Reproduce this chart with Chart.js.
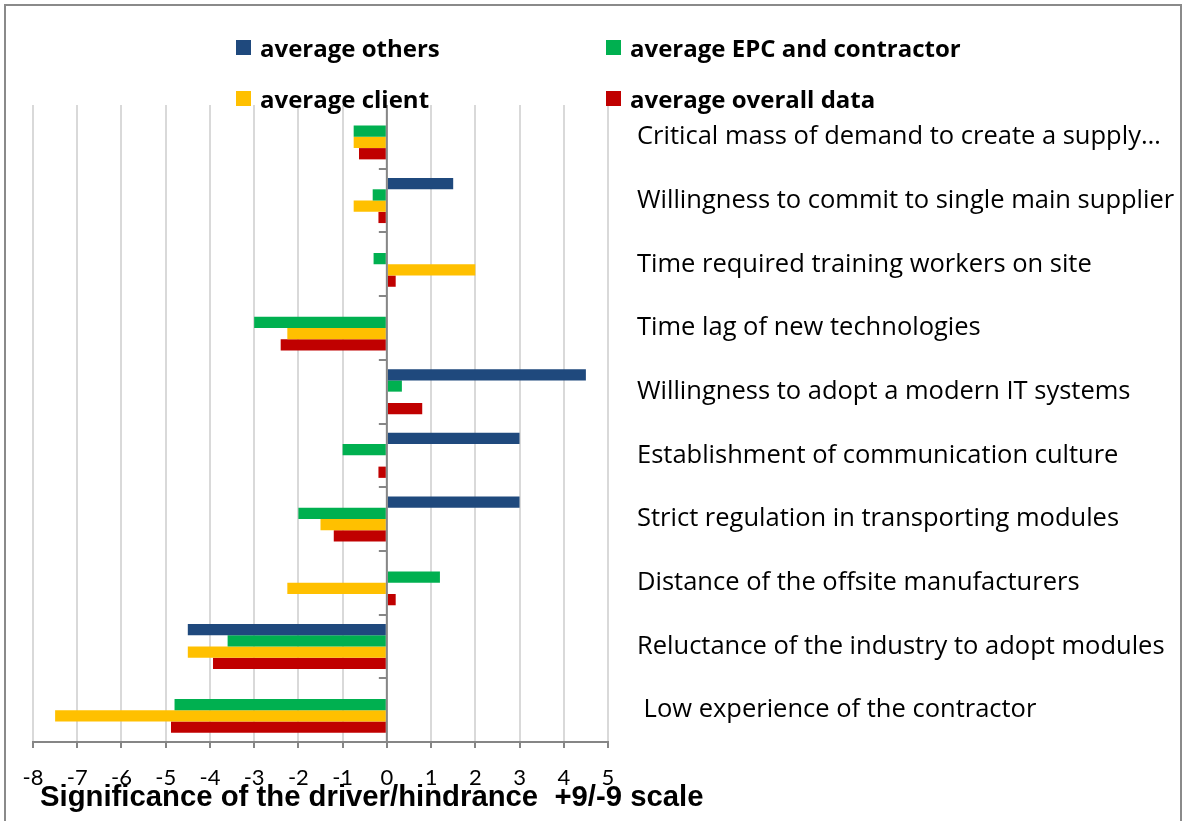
<!DOCTYPE html>
<html>
<head>
<meta charset="utf-8">
<script src="https://cdn.jsdelivr.net/npm/chart.js@4.4.1/dist/chart.umd.min.js"></script>
<style>
  html, body { margin: 0; padding: 0; background: #fff; }
  #wrap { position: relative; width: 1184px; height: 821px; overflow: hidden; }
  #frame { position: absolute; left: 4px; top: 4px; width: 1178px; height: 840px; border: 2px solid #8a8a8a; box-sizing: border-box; pointer-events: none; }
  #legend { position: absolute; left: 0; top: 0; font: bold 24px "Open Sans", sans-serif; color: #000; }
  .item { position: absolute; display: flex; align-items: center; white-space: nowrap; height: 28px; }
  .box { width: 15px; height: 15px; margin-right: 9px; }
</style>
</head>
<body>
<div id="wrap">
  <canvas id="chart"></canvas>
  <div id="legend"></div>
  <div id="frame"></div>
</div>
<script>
const categories = [
  'Critical mass of demand to create a supply\u2026',
  'Willingness to commit to single main supplier',
  'Time required training workers on site',
  'Time lag of new technologies',
  'Willingness to adopt a modern IT systems',
  'Establishment of communication culture',
  'Strict regulation in transporting modules',
  'Distance of the offsite manufacturers',
  'Reluctance of the industry to adopt modules',
  ' Low experience of the contractor'
];
const avgOthers = [null, 1.5, null, null, 4.5, 3.0, 3.0, null, -4.5, null];
const avgEpc = [-0.75, -0.32, -0.3, -3.0, 0.34, -1.0, -2.0, 1.2, -3.6, -4.8];
const avgClient = [-0.75, -0.75, 2.0, -2.25, null, null, -1.5, -2.25, -4.5, -7.5];
const avgOverall = [-0.63, -0.19, 0.2, -2.4, 0.8, -0.19, -1.2, 0.2, -3.93, -4.88];
const xTicks = [-8, -7, -6, -5, -4, -3, -2, -1, 0, 1, 2, 3, 4, 5];
const xTitle = 'Significance of the driver/hindrance  +9/-9 scale';

// short ticks on the zero axis between categories + the zero line itself
const zeroAxis = {
  id: 'zeroAxis',
  afterDatasetsDraw(chart) {
    const x = chart.scales.x, y = chart.scales.y, ctx = chart.ctx;
    const x0 = x.getPixelForValue(0);
    const n = chart.data.labels.length;
    const step = (y.bottom - y.top) / n;
    ctx.save();
    ctx.strokeStyle = '#868686';
    ctx.lineWidth = 2;
    ctx.beginPath();
    ctx.moveTo(x0, y.top);
    ctx.lineTo(x0, y.bottom);
    ctx.stroke();
    for (let i = 1; i <= n; i++) {
      const py = Math.round(y.top + i * step);
      ctx.beginPath();
      ctx.moveTo(x0 - 8, py);
      ctx.lineTo(x0, py);
      ctx.stroke();
    }
    ctx.restore();
  }
};

// axis title runs past the plot width in the original, so draw it without maxWidth
const axisTitle = {
  id: 'axisTitle',
  afterDraw(chart) {
    const ctx = chart.ctx, x = chart.scales.x;
    ctx.save();
    ctx.font = 'bold 29.3px "Liberation Sans", Arial, sans-serif';
    ctx.fillStyle = '#000';
    ctx.textAlign = 'left';
    ctx.textBaseline = 'alphabetic';
    ctx.fillText(xTitle, x.left + 7, x.bottom - 15);
    ctx.restore();
  }
};

const chart = new Chart(document.getElementById('chart'), {
  type: 'bar',
  data: {
    labels: categories,
    datasets: [
      { label: 'average others', data: avgOthers, backgroundColor: '#1F497D' },
      { label: 'average EPC and contractor', data: avgEpc, backgroundColor: '#00B050' },
      { label: 'average client', data: avgClient, backgroundColor: '#FFC000' },
      { label: 'average overall data', data: avgOverall, backgroundColor: '#C00000' }
    ]
  },
  options: {
    indexAxis: 'y',
    responsive: true,
    maintainAspectRatio: false,
    animation: false,
    categoryPercentage: 0.707,
    barPercentage: 1.0,
    layout: { padding: { top: 105, left: 33, right: 0, bottom: 0 } },
    plugins: { legend: { display: false }, tooltip: { enabled: false } },
    scales: {
      x: {
        min: -8,
        max: 5,
        afterBuildTicks: s => { s.ticks = xTicks.map(v => ({ value: v })); },
        ticks: { font: { family: 'Lato', size: 22 }, color: '#000', padding: 17 },
        grid: { color: '#d9d9d9', lineWidth: 2, tickLength: 6, tickColor: '#868686' },
        border: { color: '#868686', width: 2 },
        afterFit: s => { s.height = 79; }
      },
      y: {
        position: 'right',
        grid: { display: false, drawTicks: false },
        border: { display: false },
        ticks: { font: { family: 'Open Sans', size: 25.5 }, color: '#000', padding: 29 },
        afterFit: s => { s.width = 576; }
      }
    }
  },
  plugins: [zeroAxis, axisTitle]
});

// legend laid out in two columns like the original
const legendPos = [[236, 33], [606, 33], [236, 84], [606, 84]];
const legend = document.getElementById('legend');
chart.data.datasets.forEach((ds, i) => {
  const item = document.createElement('div');
  item.className = 'item';
  item.style.left = legendPos[i][0] + 'px';
  item.style.top = legendPos[i][1] + 'px';
  const box = document.createElement('span');
  box.className = 'box';
  box.style.background = ds.backgroundColor;
  item.appendChild(box);
  item.appendChild(document.createTextNode(ds.label));
  legend.appendChild(item);
});
</script>
</body>
</html>
